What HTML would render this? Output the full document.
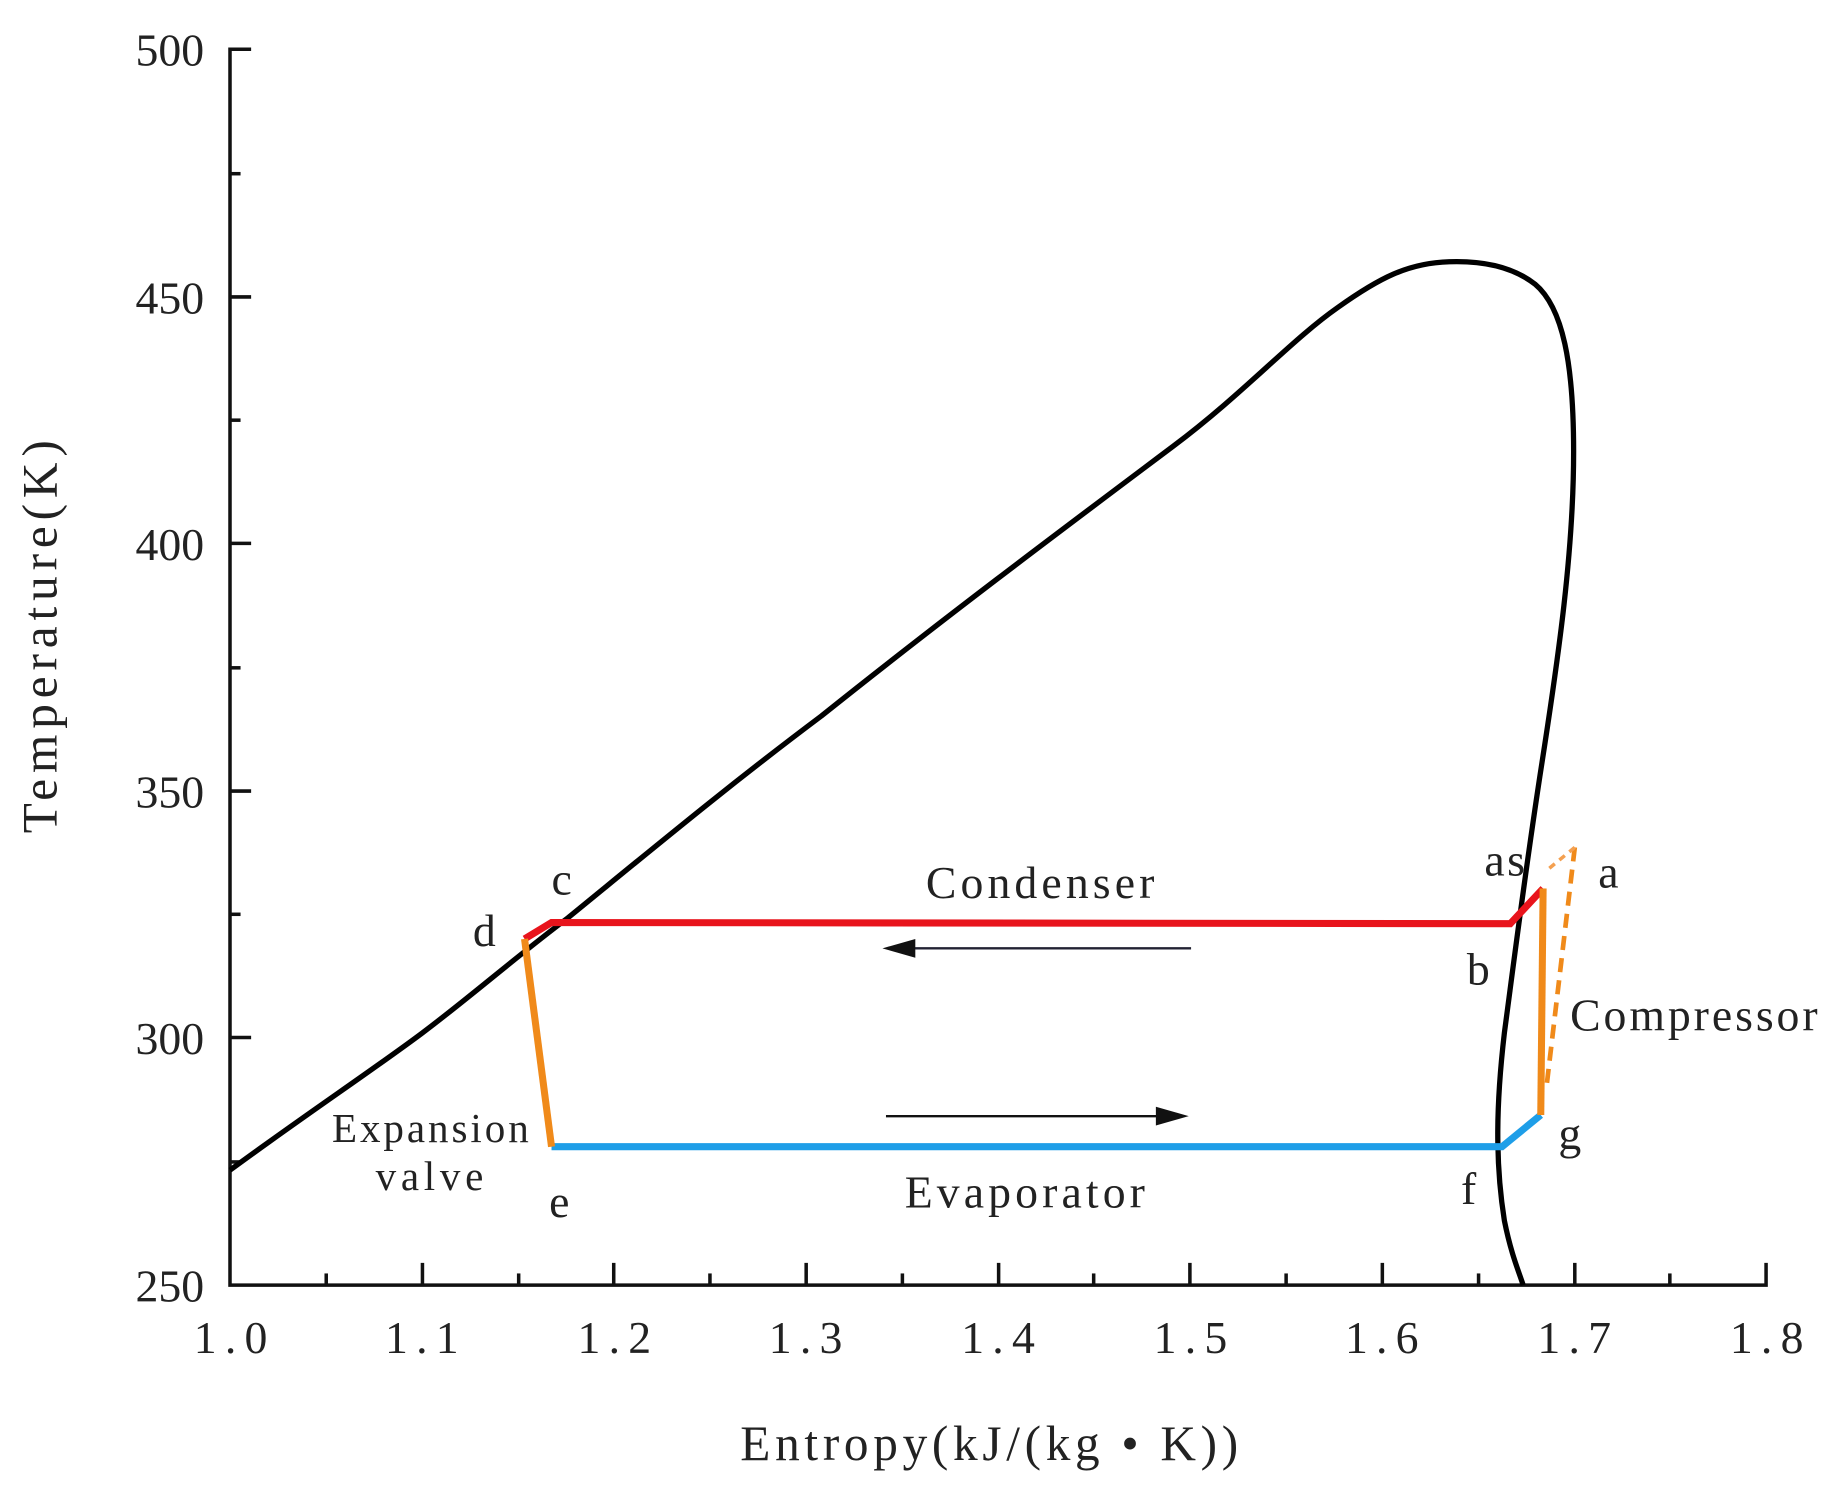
<!DOCTYPE html>
<html><head><meta charset="utf-8"><style>
html,body{margin:0;padding:0;background:#fff;}
svg{display:block;}
text{font-family:"Liberation Serif","Noto Serif CJK SC",serif;fill:#222;}
</style></head><body>
<svg width="1840" height="1507" viewBox="0 0 1568 1284" preserveAspectRatio="none" xmlns="http://www.w3.org/2000/svg">
<rect width="1568" height="1284" fill="#fff"/>
<g stroke="#111" stroke-width="3" fill="none">
<polyline points="214,42 196,42 196,1095 1505,1095 1505,1076"/>
<line x1="196" y1="253" x2="214" y2="253"/>
<line x1="196" y1="463" x2="214" y2="463"/>
<line x1="196" y1="674" x2="214" y2="674"/>
<line x1="196" y1="884" x2="214" y2="884"/>
<line x1="196" y1="148" x2="205" y2="148"/>
<line x1="196" y1="358" x2="205" y2="358"/>
<line x1="196" y1="569" x2="205" y2="569"/>
<line x1="196" y1="779" x2="205" y2="779"/>
<line x1="196" y1="990" x2="205" y2="990"/>
<line x1="360" y1="1095" x2="360" y2="1076"/>
<line x1="523" y1="1095" x2="523" y2="1076"/>
<line x1="687" y1="1095" x2="687" y2="1076"/>
<line x1="851" y1="1095" x2="851" y2="1076"/>
<line x1="1014" y1="1095" x2="1014" y2="1076"/>
<line x1="1178" y1="1095" x2="1178" y2="1076"/>
<line x1="1342" y1="1095" x2="1342" y2="1076"/>
<line x1="278" y1="1095" x2="278" y2="1085"/>
<line x1="442" y1="1095" x2="442" y2="1085"/>
<line x1="605" y1="1095" x2="605" y2="1085"/>
<line x1="769" y1="1095" x2="769" y2="1085"/>
<line x1="932" y1="1095" x2="932" y2="1085"/>
<line x1="1096" y1="1095" x2="1096" y2="1085"/>
<line x1="1260" y1="1095" x2="1260" y2="1085"/>
<line x1="1423" y1="1095" x2="1423" y2="1085"/>
</g>
<g font-size="39" text-anchor="end">
<text x="174" y="56">500</text>
<text x="174" y="267">450</text>
<text x="174" y="477">400</text>
<text x="174" y="688">350</text>
<text x="174" y="898">300</text>
<text x="174" y="1109">250</text>
</g>
<g font-size="39" text-anchor="middle" letter-spacing="7">
<text x="200" y="1153">1.0</text>
<text x="363" y="1153">1.1</text>
<text x="527" y="1153">1.2</text>
<text x="690" y="1153">1.3</text>
<text x="854" y="1153">1.4</text>
<text x="1018" y="1153">1.5</text>
<text x="1181" y="1153">1.6</text>
<text x="1345" y="1153">1.7</text>
<text x="1509" y="1153">1.8</text>
</g>
<text x="845" y="1244" font-size="42" text-anchor="middle" letter-spacing="4">Entropy(kJ/(kg • K))</text>
<text transform="translate(48,540) rotate(-90)" font-size="42" text-anchor="middle" letter-spacing="5">Temperature(K)</text>
<path d="M196,997 C260,950 320,910 360,880 C400,850 440,815 484,782 C560,720 620,670 700,610 C800,530 900,455 1000,380 C1060,335 1100,290 1140,262 C1175,237 1200,224 1235,223 C1265,222 1290,228 1308,242 C1332,262 1341,310 1341,385 C1341,470 1328,560 1314,650 C1300,740 1290,820 1282,880 C1275,940 1274,990 1282,1040 C1288,1070 1295,1085 1298,1095" fill="none" stroke="#000" stroke-width="4.5"/>
<polyline points="447,800 470,786 1287,787 1315,757" fill="none" stroke="#e8141c" stroke-width="6"/>
<polyline points="470,977 1280,977 1313,950" fill="none" stroke="#1e9ee8" stroke-width="6"/>
<line x1="447" y1="800" x2="470" y2="977" stroke="#f08a1a" stroke-width="6"/>
<line x1="1315" y1="757" x2="1313" y2="950" stroke="#f08a1a" stroke-width="6"/>
<line x1="1342" y1="722" x2="1318" y2="925" stroke="#f08a1a" stroke-width="4" stroke-dasharray="12,7"/>
<line x1="1342" y1="722" x2="1320" y2="740" stroke="#f4a050" stroke-width="3" stroke-dasharray="6,5"/>
<line x1="1015" y1="808" x2="775" y2="808" stroke="#223" stroke-width="2"/>
<polygon points="752,808 780,800 780,816" fill="#111"/>
<line x1="755" y1="951" x2="990" y2="951" stroke="#111" stroke-width="2"/>
<polygon points="1013,951 985,943 985,959" fill="#111"/>
<g font-size="39">
<text x="789" y="765" letter-spacing="3.5">Condenser</text>
<text x="771" y="1029" letter-spacing="3.5">Evaporator</text>
<text x="1338" y="878" letter-spacing="2.5">Compressor</text>
<text x="368" y="973" font-size="35" text-anchor="middle" letter-spacing="2.5">Expansion</text>
<text x="368" y="1014" font-size="35" text-anchor="middle" letter-spacing="4">valve</text>
<text x="470" y="762">c</text>
<text x="403" y="806">d</text>
<text x="468" y="1037">e</text>
<text x="1245" y="1026">f</text>
<text x="1250" y="839">b</text>
<text x="1328" y="979">g</text>
<text x="1265" y="746" letter-spacing="2">as</text>
<text x="1362" y="756">a</text>
</g>
</svg>
</body></html>
